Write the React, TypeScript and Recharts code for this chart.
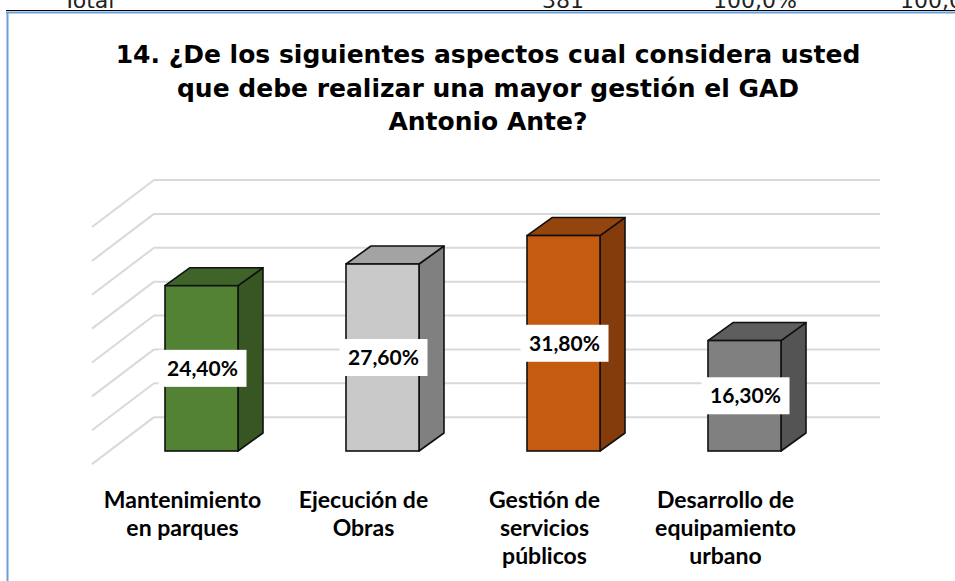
import React from 'react';
import { BarChart, Bar, XAxis, YAxis, CartesianGrid, LabelList } from 'recharts';

const categories = [
  'Mantenimiento en parques',
  'Ejecución de Obras',
  'Gestión de servicios públicos',
  'Desarrollo de equipamiento urbano',
];
const categoryLines = [
  ['Mantenimiento', 'en parques'],
  ['Ejecución de', 'Obras'],
  ['Gestión de', 'servicios', 'públicos'],
  ['Desarrollo de', 'equipamiento', 'urbano'],
];
const percentages = [24.4, 27.6, 31.8, 16.3];
const percentLabels = ['24,40%', '27,60%', '31,80%', '16,30%'];
const gridValues = [5, 10, 15, 20, 25, 30, 35, 40];
const titleLines = [
  '14. ¿De los siguientes aspectos cual considera usted',
  'que debe realizar una mayor gestión el GAD',
  'Antonio Ante?',
];
const headerTexts = ['Total', '381', '100,0%', '100,0'];

// styles
const frontColors = ['#548235', '#c9c9c9', '#c55a11', '#808080'];
const topColors = ['#3f6429', '#a3a3a3', '#94440d', '#5e5e5e'];
const sideColors = ['#375623', '#808080', '#843c0c', '#545454'];
const DEPTH_X = 25;
const DEPTH_Y = 18;

const data = categories.map((c, i) => ({ category: c, value: percentages[i], label: percentLabels[i] }));

const Box3D = (props: any) => {
  const { x, y, width: w, height: h, index } = props;
  const i = index ?? 0;
  const top = `${x},${y} ${x + DEPTH_X},${y - DEPTH_Y} ${x + w + DEPTH_X},${y - DEPTH_Y} ${x + w},${y}`;
  const side = `${x + w},${y} ${x + w + DEPTH_X},${y - DEPTH_Y} ${x + w + DEPTH_X},${y + h - DEPTH_Y} ${x + w},${y + h}`;
  return (
    <g>
      <polygon points={side} fill={sideColors[i]} stroke="#111" strokeWidth={1.6} strokeLinejoin="round" />
      <polygon points={top} fill={topColors[i]} stroke="#111" strokeWidth={1.6} strokeLinejoin="round" />
      <rect x={x} y={y} width={w} height={h} fill={frontColors[i]} stroke="#111" strokeWidth={1.6} />
    </g>
  );
};

const ValueLabel = (props: any) => {
  const { x, y, width, height, value } = props;
  const cx = x + width / 2 + 1;
  const cy = y + height / 2;
  return (
    <g>
      <rect x={cx - 44} y={cy - 18.5} width={88} height={37} fill="#ffffff" />
      <text x={cx} y={cy + 7.5} textAnchor="middle" fontFamily="Lato" fontWeight={700} fontSize={21} fill="#000">
        {value}
      </text>
    </g>
  );
};

const CategoryTick = (props: any) => {
  const { x, y, payload } = props;
  const idx = categories.indexOf(payload.value);
  const lines = categoryLines[idx] || [payload.value];
  return (
    <g>
      {lines.map((ln, k) => (
        <text key={k} x={x - 19} y={y + 57 + k * 28} textAnchor="middle" fontFamily="Lato" fontWeight={700} fontSize={23} fill="#000">
          {ln}
        </text>
      ))}
    </g>
  );
};

const GridLine = (props: any) => {
  const { x1, x2, y1 } = props;
  return (
    <g>
      <line x1={x1 + 43} y1={y1} x2={x2 + 45} y2={y1} stroke="#d9d9d9" strokeWidth={2} />
      <line x1={x1 + 43} y1={y1} x2={x1 - 19} y2={y1 + 47} stroke="#d9d9d9" strokeWidth={2} />
    </g>
  );
};

export default function App() {
  return (
    <div style={{ position: 'absolute', left: 0, top: 0, width: 955, height: 581, background: '#fff', overflow: 'hidden' }}>
      <BarChart
        width={955}
        height={581}
        data={data}
        margin={{ top: 180, right: 120, bottom: 100, left: 111 }}
        barSize={73}
      >
        <CartesianGrid vertical={false} horizontalValues={gridValues} horizontal={(p: any) => <GridLine key={p.key ?? p.index} {...p} />} />
        <XAxis
          dataKey="category"
          axisLine={false}
          tickLine={false}
          tickSize={0}
          tickMargin={0}
          height={30}
          interval={0}
          tick={<CategoryTick />}
        />
        <YAxis hide domain={[0, 40]} ticks={gridValues} />
        <Bar dataKey="value" shape={<Box3D />} isAnimationActive={false}>
          <LabelList dataKey="label" content={<ValueLabel />} />
        </Bar>
      </BarChart>
      <svg width={955} height={581} style={{ position: 'absolute', left: 0, top: 0, pointerEvents: 'none' }}>
        <text x={63} y={8} fontFamily="DejaVu Sans" fontSize={22} fill="#222">{headerTexts[0]}</text>
        <text x={563} y={8} textAnchor="middle" fontFamily="DejaVu Sans" fontSize={22} fill="#222">{headerTexts[1]}</text>
        <text x={755} y={8} textAnchor="middle" fontFamily="DejaVu Sans" fontSize={22} fill="#222">{headerTexts[2]}</text>
        <text x={900} y={8} fontFamily="DejaVu Sans" fontSize={22} fill="#222">{headerTexts[3]}</text>
        <line x1={6} y1={10.5} x2={955} y2={10.5} stroke="#000" strokeWidth={1} />
        <line x1={6} y1={12.5} x2={955} y2={12.5} stroke="#6a9fd8" strokeWidth={2} />
        <line x1={7.5} y1={12} x2={7.5} y2={581} stroke="#6a9fd8" strokeWidth={2} />
        {titleLines.map((t, k) => (
          <text key={k} x={488} y={63 + k * 33.5} textAnchor="middle" fontFamily="DejaVu Sans" fontWeight={700} fontSize={25} fill="#000">
            {t}
          </text>
        ))}
      </svg>
    </div>
  );
}
